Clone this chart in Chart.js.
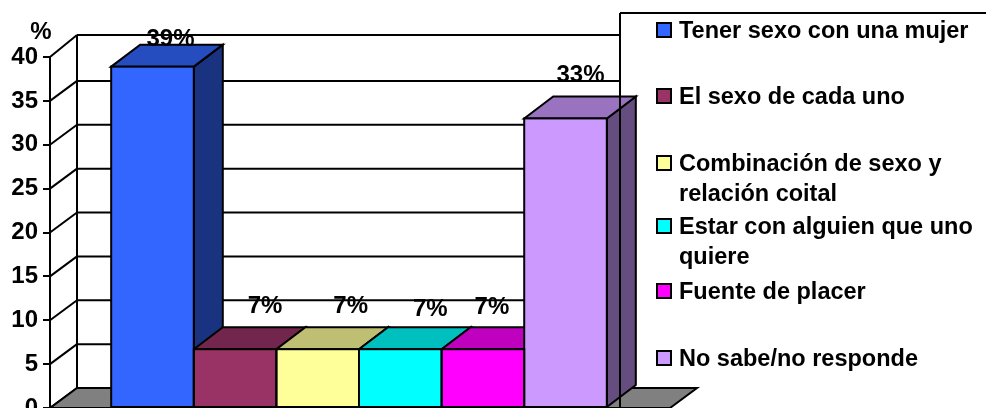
<!DOCTYPE html>
<html>
<head>
<meta charset="utf-8">
<title>Chart</title>
<script src="https://cdn.jsdelivr.net/npm/chart.js@4/dist/chart.umd.min.js"></script>
<style>
  html, body { margin: 0; padding: 0; background: #fff; overflow: hidden; }
  canvas { display: block; }
</style>
</head>
<body>
<canvas id="chart" width="986" height="408"></canvas>
<script>
const categories = ['Respuestas'];
const seriesNames = [
    'Tener sexo con una mujer',
    'El sexo de cada uno',
    'Combinación de sexo y relación coital',
    'Estar con alguien que uno quiere',
    'Fuente de placer',
    'No sabe/no responde',
];
const seriesValues = [38.9, 6.7, 6.7, 6.7, 6.7, 33];
const valueLabels = ['39%', '7%', '7%', '7%', '7%', '33%'];

const frontColors = ['#3366FF', '#993366', '#FFFF99', '#00FFFF', '#FF00FF', '#CC99FF'];
const topColors = ['#264DBF', '#73264D', '#BFBF73', '#00BFBF', '#BF00BF', '#9973BF'];
const sideColors = ['#1A3380', '#4D1A33', '#80804D', '#008080', '#800080', '#664D80'];

// hand placed value labels, relative to the bar's top front edge
const labelShiftX = [18, 30, 33, 30, 9, 15];
const labelShiftY = [-27, -43, -43, -40, -42, -43];

// legend layout: one entry per series, wrapped lines and row centres
const legendLines = [
    ['Tener sexo con una mujer'],
    ['El sexo de cada uno'],
    ['Combinación de sexo y', 'relación coital'],
    ['Estar con alguien que uno', 'quiere'],
    ['Fuente de placer'],
    ['No sabe/no responde'],
];
const legendRows = [32, 98, 165, 228, 293, 360];
const LEGEND_LINE = 30;
const LEGEND_LEFT = 620;
const LEGEND_TOP = 13;

const WALL_DX = 27;
const WALL_DY = -20;
const FLOOR_EXTRA = 2;
const BAR_DX = 29;
const BAR_DY = -22;
const LINE = 2;
const FONT = 'bold 24px "Liberation Sans", Arial, sans-serif';
const LEGEND_FONT = 'bold 23.5px "Liberation Sans", Arial, sans-serif';

function poly(ctx, pts, fill) {
    ctx.beginPath();
    pts.forEach((p, i) => (i ? ctx.lineTo(p[0], p[1]) : ctx.moveTo(p[0], p[1])));
    ctx.closePath();
    ctx.fillStyle = fill;
    ctx.fill();
    ctx.stroke();
}

function line(ctx, x1, y1, x2, y2) {
    ctx.beginPath();
    ctx.moveTo(x1, y1);
    ctx.lineTo(x2, y2);
    ctx.stroke();
}

// ── 3D walls, floor and bar sides, below the bar fronts ───────────────────
const depthPlugin = {
    id: 'depth',
    beforeDatasetsDraw(chart) {
        const { ctx, chartArea, scales } = chart;
        const y = scales.y;
        const backLeft = chartArea.left + WALL_DX;
        const floorRight = chartArea.right + FLOOR_EXTRA;
        const zero = y.getPixelForValue(0);
        ctx.save();
        ctx.strokeStyle = '#000';
        ctx.lineWidth = LINE;
        y.ticks.forEach((t) => {
            const py = y.getPixelForValue(t.value);
            const extra = t.value === y.max ? -2 : 0;
            if (t.value !== 0) line(ctx, backLeft, py + WALL_DY + extra, LEGEND_LEFT, py + WALL_DY + extra);
            line(ctx, chartArea.left, py, backLeft, py + WALL_DY + extra);
        });
        line(ctx, backLeft, y.getPixelForValue(y.max) + WALL_DY - 2, backLeft, zero + WALL_DY);

        poly(ctx, [
            [chartArea.left, zero],
            [backLeft, zero + WALL_DY],
            [floorRight + WALL_DX, zero + WALL_DY],
            [floorRight, zero],
        ], '#808080');

        seriesValues.forEach((v, i) => {
            const bar = chart.getDatasetMeta(i).data[0];
            const l = bar.x - bar.width / 2;
            const r = bar.x + bar.width / 2;
            poly(ctx, [
                [r, bar.y],
                [r + BAR_DX, bar.y + BAR_DY],
                [r + BAR_DX, bar.base + BAR_DY],
                [r, bar.base],
            ], sideColors[i]);
            poly(ctx, [
                [l, bar.y],
                [l + BAR_DX, bar.y + BAR_DY],
                [r + BAR_DX, bar.y + BAR_DY],
                [r, bar.y],
            ], topColors[i]);
        });
        ctx.restore();
    },
    afterDatasetsDraw(chart) {
        const { ctx, width, height, chartArea } = chart;
        ctx.save();
        ctx.strokeStyle = '#000';
        ctx.lineWidth = LINE;
        ctx.textBaseline = 'middle';

        // bar front outlines
        seriesValues.forEach((v, i) => {
            const bar = chart.getDatasetMeta(i).data[0];
            ctx.strokeRect(bar.x - bar.width / 2, bar.y, bar.width, bar.base - bar.y);
        });

        // legend frame and entries
        line(ctx, LEGEND_LEFT, LEGEND_TOP, width, LEGEND_TOP);
        line(ctx, LEGEND_LEFT, LEGEND_TOP, LEGEND_LEFT, height);
        seriesNames.forEach((name, i) => {
            ctx.fillStyle = frontColors[i];
            ctx.fillRect(657, legendRows[i] - 9, 14, 14);
            ctx.strokeRect(657, legendRows[i] - 9, 14, 14);
            ctx.fillStyle = '#000';
            ctx.font = LEGEND_FONT;
            ctx.textAlign = 'left';
            legendLines[i].forEach((txt, j) => {
                ctx.fillText(txt, 679, legendRows[i] + j * LEGEND_LINE);
            });
        });

        // value labels
        ctx.fillStyle = '#000';
        ctx.font = FONT;
        ctx.textAlign = 'center';
        seriesValues.forEach((v, i) => {
            const bar = chart.getDatasetMeta(i).data[0];
            ctx.fillText(valueLabels[i], bar.x + labelShiftX[i], bar.y + labelShiftY[i]);
        });

        // axis unit
        ctx.fillText('%', chartArea.left - 9, 32);
        ctx.restore();
    },
};

new Chart(document.getElementById('chart'), {
    type: 'bar',
    data: {
        labels: categories,
        datasets: seriesNames.map((name, i) => ({
            label: name,
            data: [seriesValues[i]],
            backgroundColor: frontColors[i],
            borderWidth: 0,
            categoryPercentage: 0.802,
            barPercentage: 1,
        })),
    },
    options: {
        responsive: false,
        animation: false,
        layout: { padding: { left: 0, right: 318, top: 57, bottom: 0 } },
        plugins: { legend: { display: false }, tooltip: { enabled: false } },
        scales: {
            x: { display: false },
            y: {
                min: 0,
                max: 40,
                afterFit(scale) {
                    scale.width = 50;
                    scale.paddingTop = 0;
                    scale.paddingBottom = 0;
                },
                ticks: {
                    stepSize: 5,
                    padding: 5,
                    color: '#000',
                    font: { family: '"Liberation Sans", Arial, sans-serif', size: 24, weight: 'bold' },
                },
                grid: { drawOnChartArea: false, drawTicks: true, tickLength: 7, color: '#000', lineWidth: LINE },
                border: { color: '#000', width: LINE },
            },
        },
    },
    plugins: [depthPlugin],
});
</script>
</body>
</html>
